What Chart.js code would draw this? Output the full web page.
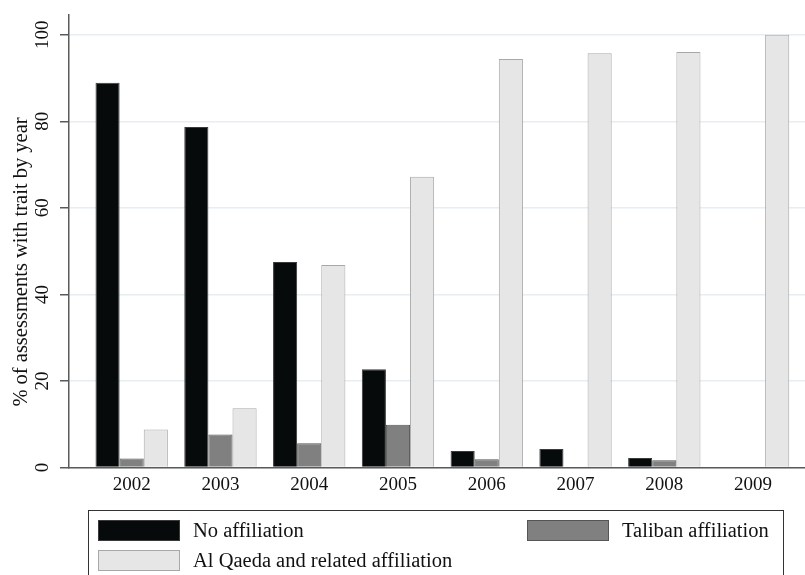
<!DOCTYPE html>
<html>
<head>
<meta charset="utf-8">
<script src="https://cdn.jsdelivr.net/npm/chart.js@4"></script>
<style>
    html, body { margin: 0; padding: 0; background: #fff; overflow: hidden; }
    #wrap { position: relative; width: 805px; height: 575px; }
    #legend {
        position: absolute; left: 88px; top: 510px; width: 696px; height: 80px;
        border: 1px solid #333; box-sizing: border-box;
        font-family: "Liberation Serif", serif; font-size: 20.5px; color: #111;
    }
    .item { position: absolute; display: flex; align-items: center; white-space: nowrap; }
    .swatch { width: 82px; height: 21px; box-sizing: border-box; border: 1px solid #777; margin-right: 13px; }
</style>
</head>
<body>
<div id="wrap">
    <canvas id="chart" width="805" height="575"></canvas>
    <div id="legend"></div>
</div>
<script>
const years = [2002, 2003, 2004, 2005, 2006, 2007, 2008, 2009];
const noAffiliation = [88.9, 78.7, 47.5, 22.7, 3.8, 4.3, 2.2, 0];
const talibanAffiliation = [2.1, 7.6, 5.6, 9.9, 1.9, 0, 1.7, 0];
const alQaedaAffiliation = [8.8, 13.7, 46.8, 67.2, 94.4, 95.7, 96.0, 100];
const seriesNames = ["No affiliation", "Taliban affiliation", "Al Qaeda and related affiliation"];
const yTicks = [0, 20, 40, 60, 80, 100];
const yTitleText = "% of assessments with trait by year";

const fills = ["#060a0b", "#808080", "#e5e6e5"];
const edges = ["#3a3a3a", "#555555", "#a8a8a8"];
const font = { family: "Liberation Serif", size: 19 };

function points(vals) {
    return years.map((yr, i) => ({ x: yr, y: vals[i] }));
}

/* ========== Y TITLE ========== */
const yTitle = {
    id: "yTitle",
    afterDraw(chart) {
        const ctx = chart.ctx;
        ctx.save();
        ctx.translate(22, 262);
        ctx.rotate(-Math.PI / 2);
        ctx.font = '20.5px "Liberation Serif"';
        ctx.fillStyle = "#111";
        ctx.textAlign = "center";
        ctx.textBaseline = "middle";
        ctx.fillText(yTitleText, 0, 0);
        ctx.restore();
    }
};

const ctx = document.getElementById("chart").getContext("2d");
const chart = new Chart(ctx, {
    type: "bar",
    data: {
        datasets: [noAffiliation, talibanAffiliation, alQaedaAffiliation].map((vals, i) => ({
            label: seriesNames[i],
            data: points(vals),
            backgroundColor: fills[i],
            borderColor: edges[i],
            borderWidth: 1,
            categoryPercentage: 0.815,
            barPercentage: 1.0
        }))
    },
    options: {
        responsive: false,
        animation: false,
        layout: { padding: { top: 12, right: 0, left: 0, bottom: 0 } },
        plugins: { legend: { display: false }, tooltip: { enabled: false } },
        scales: {
            x: {
                type: "linear",
                offset: false,
                min: 2001.294,
                max: 2009.585,
                afterBuildTicks: s => { s.ticks = years.map(v => ({ value: v })); },
                afterFit: s => { s.height = 107.5; },
                grid: { display: false, drawTicks: false, offset: false },
                border: { display: true, color: "#5a5a5a", width: 1.5 },
                ticks: {
                    font, color: "#111", padding: 6,
                    maxRotation: 0, autoSkip: false,
                    callback: v => String(v)
                }
            },
            y: {
                min: 0,
                max: 104.7,
                afterBuildTicks: s => { s.ticks = yTicks.map(v => ({ value: v })); },
                afterFit: s => { s.width = 69; },
                grid: { color: "#e6eef2", lineWidth: 1.5, tickColor: "#5a5a5a", tickLength: 9, drawTicks: true },
                border: { display: true, color: "#5a5a5a", width: 1.5 },
                ticks: {
                    font, color: "#111", padding: 3,
                    minRotation: 90, maxRotation: 90,
                    crossAlign: "center",
                    callback: v => String(v)
                }
            }
        }
    },
    plugins: [yTitle]
});

/* ========== LEGEND ========== */
const legendPos = [[9, 8], [438, 8], [9, 38]];
const legend = document.getElementById("legend");
chart.data.datasets.forEach((ds, i) => {
    const item = document.createElement("div");
    item.className = "item";
    item.style.left = legendPos[i][0] + "px";
    item.style.top = legendPos[i][1] + "px";
    item.innerHTML = `<div class="swatch" style="background:${ds.backgroundColor};border-color:${ds.borderColor}"></div><span>${ds.label}</span>`;
    legend.appendChild(item);
});
</script>
</body>
</html>
